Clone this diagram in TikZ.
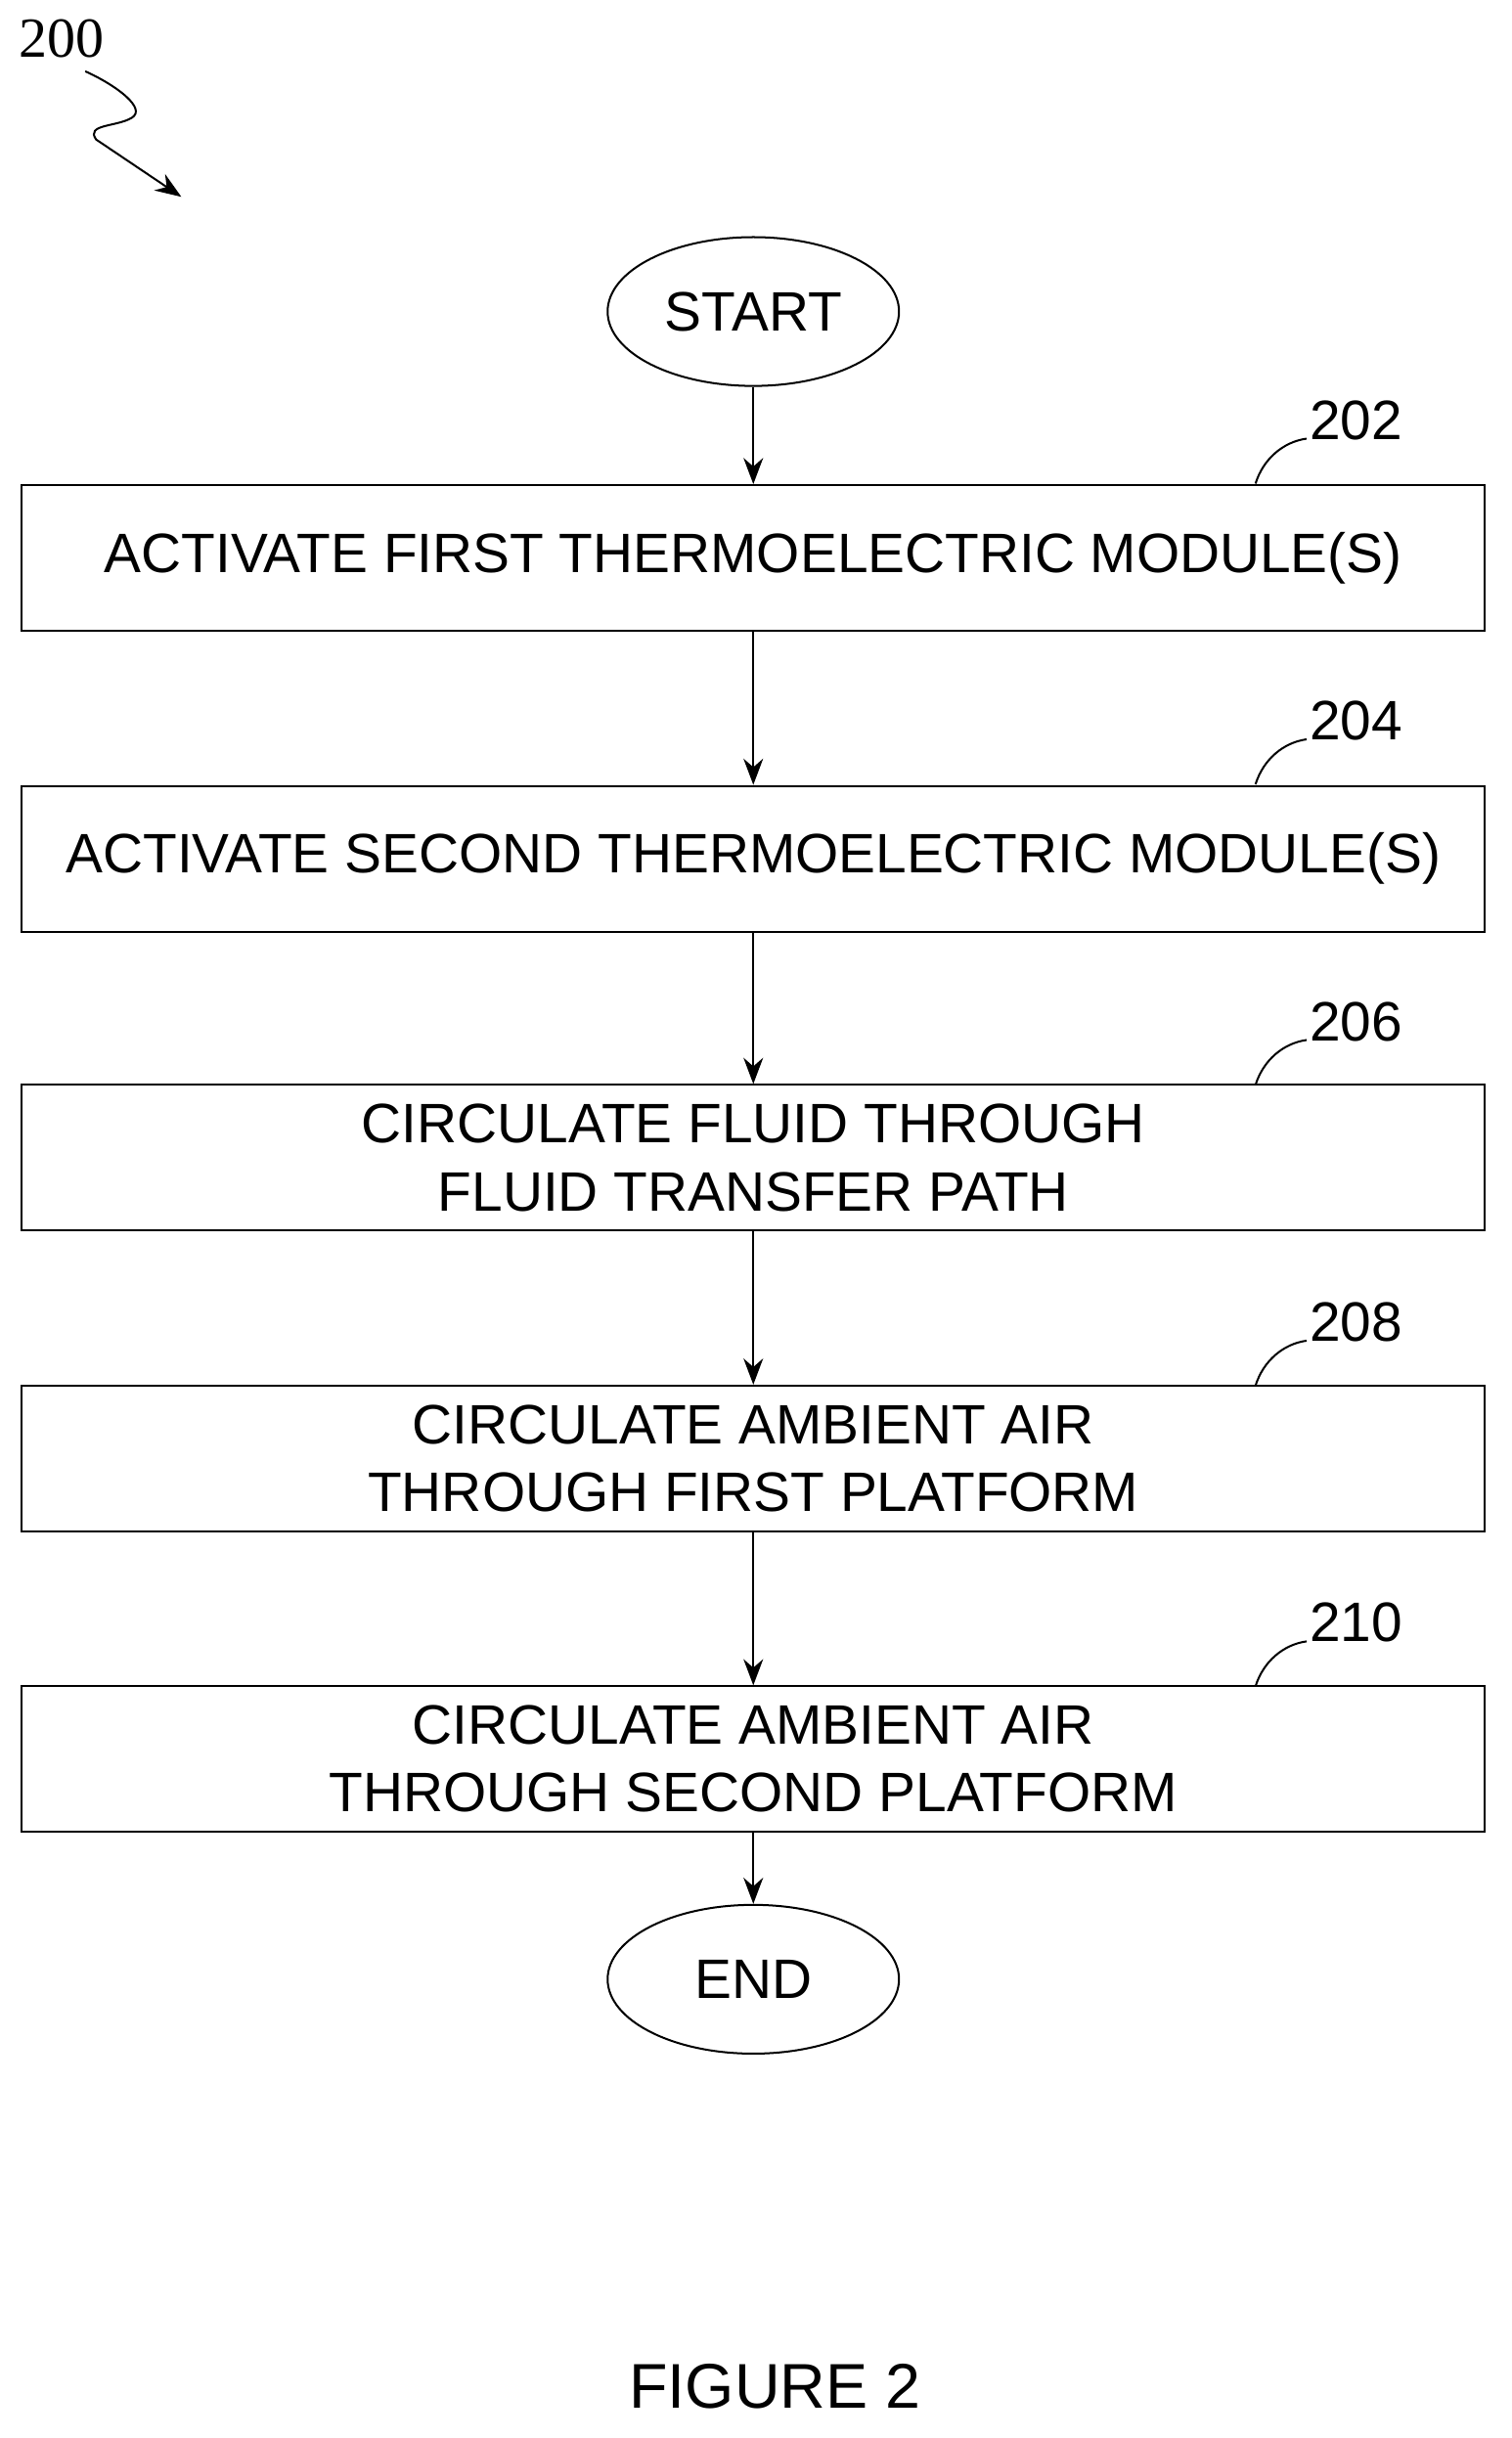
\documentclass[tikz,border=0pt]{standalone}
\usepackage{fontspec}
\setmainfont{Liberation Sans}
\newfontfamily\serifnum{Liberation Serif}
\usetikzlibrary{arrows.meta,shapes.geometric}
\begin{document}
\begin{tikzpicture}[x=0.05cm,y=-0.05cm,line width=1.8pt,
  box/.style={draw,minimum width=47.2cm,minimum height=4.7cm,align=center,font=\fontsize{51}{62}\selectfont},
  term/.style={draw,ellipse,minimum width=9.4cm,minimum height=4.8cm,font=\fontsize{51}{62}\selectfont},
  lab/.style={font=\fontsize{51}{62}\selectfont},
  arr/.style={-{Stealth[length=24pt,width=18pt]}}]
\useasboundingbox (0,0) rectangle (975,1573);
\node[font=\serifnum\fontsize{52}{60}\selectfont] (n200) at (40,25) {200};
\coordinate (sq1) at (55,46);
\coordinate (sq2) at (117,127);
\draw[arr] (sq1) .. controls (75,55) and (95,70) .. (85,76) .. controls (75,82) and (55,80) .. (62,90) -- (sq2);
\node[term] (start) at (486,201) {START};
\node[box] (b1) at (486,360) {ACTIVATE FIRST THERMOELECTRIC MODULE(S)};
\node[box] (b2) at (486,554) {ACTIVATE SECOND THERMOELECTRIC MODULE(S)};
\node[box] (b3) at (486,747) {CIRCULATE FLUID THROUGH\\FLUID TRANSFER PATH};
\node[box] (b4) at (486,941) {CIRCULATE AMBIENT AIR\\THROUGH FIRST PLATFORM};
\node[box] (b5) at (486,1135) {CIRCULATE AMBIENT AIR\\THROUGH SECOND PLATFORM};
\node[term] (end) at (486,1277) {END};
\draw[arr] (start) -- (b1);
\draw[arr] (b1) -- (b2);
\draw[arr] (b2) -- (b3);
\draw[arr] (b3) -- (b4);
\draw[arr] (b4) -- (b5);
\draw[arr] (b5) -- (end);
\foreach \n/\y in {202/271,204/465,206/659,208/853,210/1047}{
  \node[lab] (l\n) at (875,\y) {\n};
  \draw (810,\y+41) .. controls (815,\y+25) and (828,\y+14) .. (843,\y+12);
}
\node[font=\fontsize{58}{66}\selectfont] (fig) at (500,1540) {FIGURE 2};
\end{tikzpicture}
\end{document}
